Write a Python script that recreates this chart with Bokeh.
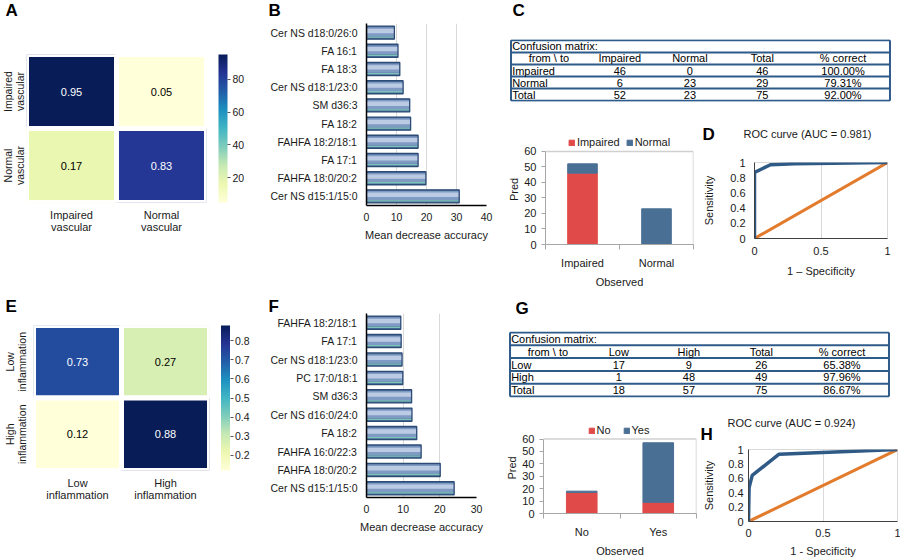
import numpy as np
from bokeh.plotting import figure
from bokeh.models import (ColumnDataSource, Range1d, FactorRange, FixedTicker,
                          SingleIntervalTicker, LinearColorMapper, ColorBar,
                          Legend, LegendItem, PrintfTickFormatter)
from bokeh.palettes import YlGnBu9
from bokeh.transform import dodge
from bokeh.core.properties import value
from bokeh.embed import file_html
from bokeh.resources import INLINE

FONT = "Liberation Sans"
TXT = "#1a1a1a"

# ---------------- data ----------------
# A / E: normalised confusion heatmaps
vasc_heat_labels = ["Impaired\nvascular", "Normal\nvascular"]
vasc_heat = [[0.95, 0.05], [0.17, 0.83]]
infl_heat_labels = ["Low\ninflammation", "High\ninflammation"]
infl_heat = [[0.73, 0.27], [0.12, 0.88]]

# B / F: random-forest feature importance (top to bottom)
vasc_features = ["Cer NS d18:0/26:0", "FA 16:1", "FA 18:3", "Cer NS d18:1/23:0", "SM d36:3",
                 "FA 18:2", "FAHFA 18:2/18:1", "FA 17:1", "FAHFA 18:0/20:2", "Cer NS d15:1/15:0"]
vasc_mda = [9.3, 10.5, 11.1, 12.2, 14.4, 14.7, 17.2, 17.2, 19.8, 30.9]
infl_features = ["FAHFA 18:2/18:1", "FA 17:1", "Cer NS d18:1/23:0", "PC 17:0/18:1", "SM d36:3",
                 "Cer NS d16:0/24:0", "FA 18:2", "FAHFA 16:0/22:3", "FAHFA 18:0/20:2", "Cer NS d15:1/15:0"]
infl_mda = [9.35, 9.45, 9.7, 9.9, 12.3, 12.4, 13.7, 14.9, 20.1, 23.9]

# C / G: confusion matrices (rows = from, columns = to)
vasc_classes = ["Impaired", "Normal"]
vasc_cm = [[46, 0], [6, 23]]
vasc_bar_cats = ["Impaired", "Normal"]
vasc_bar_legend = ["Impaired", "Normal"]
infl_classes = ["Low", "High"]
infl_cm = [[17, 9], [1, 48]]
infl_bar_cats = ["No", "Yes"]
infl_bar_legend = ["No", "Yes"]
pred_max = 60

# D / H: ROC curves
vasc_fpr = [0, 0, 0.12, 0.3, 1]
vasc_tpr = [0, 0.87, 0.97, 0.985, 1]
vasc_auc = 0.981
infl_fpr = [0, 0.004, 0.025, 0.205, 1]
infl_tpr = [0, 0.47, 0.64, 0.935, 1]
infl_auc = 0.924
chance = [0, 1]

RED = "#E04B49"
BLUE = "#4A6F94"
ROC_BLUE = "#2F5A86"
ORANGE = "#E27B2C"
RULE = "#2F5B8A"
FRAME_GREY = "#D0D0D0"


def ylgnbu(n=256):
    base = list(reversed(YlGnBu9))
    rgb = np.array([[int(c[i:i + 2], 16) for i in (1, 3, 5)] for c in base], float)
    pos = np.linspace(0, 1, len(base))
    t = np.linspace(0, 1, n)
    chans = [np.interp(t, pos, rgb[:, k]) for k in range(3)]
    return ["#%02x%02x%02x" % (int(round(r)), int(round(g)), int(round(b)))
            for r, g, b in zip(*chans)]


PAL = ylgnbu()


def base_fig(width, height, l, r, t, b, **kw):
    p = figure(width=width, height=height, output_backend="svg", toolbar_location=None,
               min_border_left=l, min_border_right=r, min_border_top=t, min_border_bottom=b,
               background_fill_color="white", border_fill_color="white", **kw)
    return p


def place(p, left, top):
    # each panel is its own root, pinned to its spot on the page
    p.styles = {"position": "absolute", "left": f"{left}px", "top": f"{top}px"}
    return p


def text_tag(text, left, top, width, height, size, bold=False, centered=False):
    # small transparent canvas holding a panel letter or a chart heading
    p = figure(width=width, height=height, output_backend="svg", toolbar_location=None,
               x_range=Range1d(0, 1), y_range=Range1d(0, 1), min_border=0,
               x_axis_location=None, y_axis_location=None)
    p.grid.visible = False
    p.outline_line_color = None
    p.background_fill_alpha = 0
    p.border_fill_alpha = 0
    p.text(x=[0.5 if centered else 0], y=[0.5 if centered else 1], text=[text],
           text_align="center" if centered else "left",
           text_baseline="middle" if centered else "top",
           text_font=value(FONT), text_font_size=size,
           text_font_style="bold" if bold else "normal", text_color="black" if bold else TXT)
    return place(p, left, top)


def letter(text, left, top):
    return text_tag(text, left, top, 24, 22, "17px", bold=True)


def heading(text, cx, cy):
    return text_tag(text, cx - 80, cy - 8, 160, 16, "11px", centered=True)


def style_axis(ax, size="11px"):
    ax.major_label_text_font = FONT
    ax.major_label_text_font_size = size
    ax.major_label_text_color = TXT
    ax.axis_label_text_font = FONT
    ax.axis_label_text_font_size = "11px"
    ax.axis_label_text_font_style = "normal"
    ax.axis_label_text_color = TXT


def heatmap(matrix, labels, low, high, scale, ticks, width, height, l, r, t, b, cb_gap, ystand):
    n = len(labels)
    xs, ys, vs, txt, col = [], [], [], [], []
    for i in range(n):
        for j in range(n):
            v = matrix[i][j]
            xs.append(j + 0.5)
            ys.append(n - i - 0.5)
            vs.append(v * scale)
            txt.append(f"{v:.2f}")
            col.append("white" if (v * scale - low) / (high - low) > 0.5 else "black")
    src = ColumnDataSource(dict(x=xs, y=ys, v=vs, t=txt, c=col))
    mapper = LinearColorMapper(palette=PAL, low=low, high=high)
    p = base_fig(width, height, l, r, t, b, x_range=Range1d(0, n), y_range=Range1d(0, n))
    p.rect("x", "y", 1, 1, source=src, fill_color={"field": "v", "transform": mapper},
           line_color="white", line_width=5)
    p.text("x", "y", text="t", source=src, text_color="c", text_align="center",
           text_baseline="middle", text_font=value(FONT), text_font_size="11px")
    p.grid.visible = False
    p.outline_line_color = None
    centers = [k + 0.5 for k in range(n)]
    p.xaxis.ticker = FixedTicker(ticks=centers)
    p.yaxis.ticker = FixedTicker(ticks=centers)
    p.xaxis.major_label_overrides = {c: labels[k] for k, c in enumerate(centers)}
    p.yaxis.major_label_overrides = {c: labels[n - 1 - k] for k, c in enumerate(centers)}
    p.yaxis.major_label_orientation = "parallel"
    for ax in (p.xaxis[0], p.yaxis[0]):
        style_axis(ax, "11px")
        ax.axis_line_color = None
        ax.major_tick_line_color = None
        ax.minor_tick_line_color = None
        ax.major_tick_out = 0
        ax.major_tick_in = 0
    p.xaxis.major_label_text_line_height = 1.05
    p.xaxis.major_label_standoff = 6
    p.yaxis.major_label_standoff = ystand
    p.yaxis.major_label_text_font_size = "10.5px"
    p.yaxis.major_label_text_line_height = 1.0
    fw = width - l - r
    fh = height - t - b
    cb = ColorBar(color_mapper=mapper, ticker=FixedTicker(ticks=ticks), location=(fw + cb_gap, 0),
                  width=9, height=fh, padding=0, margin=0, major_tick_in=0, major_tick_out=3,
                  major_tick_line_color="#555555", minor_tick_line_color=None,
                  major_label_text_font=FONT, major_label_text_font_size="10.5px",
                  major_label_text_color=TXT, label_standoff=2, bar_line_color=None,
                  border_line_color=None, background_fill_alpha=0)
    p.add_layout(cb, "center")
    return p


def importance(features, vals, xmax, ticks, width, height, l, r, t, b):
    p = base_fig(width, height, l, r, t, b,
                 y_range=FactorRange(factors=list(reversed(features)), range_padding=0),
                 x_range=Range1d(0, xmax))
    src = ColumnDataSource(dict(f=features, v=vals))
    p.hbar(y="f", left=0, right="v", height=0.72, source=src, fill_color="#4E6E9B", line_color=None)
    p.hbar(y=dodge("f", 0.04, range=p.y_range), left=0, right="v", height=0.5, source=src,
           fill_color="#7F9AC3", line_color=None)
    p.hbar(y=dodge("f", 0.09, range=p.y_range), left=0, right="v", height=0.24, source=src,
           fill_color="#BCCBE4", line_color=None)
    p.hbar(y=dodge("f", -0.25, range=p.y_range), left=0, right="v", height=0.07, source=src,
           fill_color="#7CC4B8", line_color=None)
    p.hbar(y="f", left=0, right="v", height=0.72, source=src, fill_color=None,
           line_color="#2C4B75", line_width=1.3)
    p.ygrid.visible = False
    p.xgrid.grid_line_color = "#D9D9D9"
    p.xgrid.ticker = FixedTicker(ticks=ticks)
    p.outline_line_color = None
    p.xaxis.ticker = FixedTicker(ticks=ticks)
    p.xaxis.axis_label = "Mean decrease accuracy"
    for ax in (p.xaxis[0], p.yaxis[0]):
        style_axis(ax, "10.5px")
        ax.axis_line_color = "black"
        ax.axis_line_width = 1.5
        ax.major_tick_line_color = None
        ax.minor_tick_line_color = None
        ax.major_tick_out = 0
        ax.major_tick_in = 0
    p.xaxis.major_label_standoff = 7
    p.xaxis.axis_label_standoff = 5
    p.yaxis.major_label_standoff = 9
    return p


COL_POS = [0.10, 0.287, 0.472, 0.663, 0.876]


def table(cm, classes, width, height, l, r, t, b):
    n = len(classes)
    row_tot = [sum(rw) for rw in cm]
    col_tot = [sum(cm[i][j] for i in range(n)) for j in range(n)]
    total = sum(row_tot)
    header = ["from \\ to"] + classes + ["Total", "% correct"]
    body = []
    for i, c in enumerate(classes):
        body.append([c] + [str(v) for v in cm[i]] +
                    [str(row_tot[i]), f"{100 * cm[i][i] / row_tot[i]:.2f}%"])
    body.append(["Total"] + [str(v) for v in col_tot] +
                [str(total), f"{100 * sum(cm[i][i] for i in range(n)) / total:.2f}%"])
    nrows = 2 + len(body)
    p = base_fig(width, height, l, r, t, b, x_range=Range1d(-0.004, 1.004),
                 y_range=Range1d(nrows + 0.07, -0.07), x_axis_location=None, y_axis_location=None)
    p.grid.visible = False
    p.outline_line_color = None
    ys = list(range(nrows + 1))
    p.segment(x0=[0] * len(ys), y0=ys, x1=[1] * len(ys), y1=ys, line_color=RULE, line_width=2)
    p.segment(x0=[0, 1], y0=[0, 0], x1=[0, 1], y1=[nrows, nrows], line_color=RULE, line_width=2)
    cx, cy, ct = [], [], []
    lx, ly, lt = [0.003], [0.5], ["Confusion matrix:"]
    for k, h in enumerate(header):
        cx.append(COL_POS[k]); cy.append(1.5); ct.append(h)
    for ri, rw in enumerate(body):
        yy = 2.5 + ri
        lx.append(0.003); ly.append(yy); lt.append(rw[0])
        for k in range(1, len(rw)):
            cx.append(COL_POS[k]); cy.append(yy); ct.append(rw[k])
    p.text(x=cx, y=cy, text=ct, text_align="center", text_baseline="middle",
           text_font=value(FONT), text_font_size="11px", text_color="black")
    p.text(x=lx, y=ly, text=lt, text_align="left", text_baseline="middle",
           text_font=value(FONT), text_font_size="11px", text_color="black")
    return p


def stacked(cm, cats, legend_labels, width, height, l, r, t, b, top_of_max):
    # the frame reaches a little above the value axis so the key can sit over the bars
    n = len(cats)
    xs = [k + 0.5 for k in range(n)]
    data = dict(x=xs)
    keys = []
    for i in range(len(cm)):
        key = f"s{i}"
        data[key] = [cm[i][j] for j in range(n)]
        keys.append(key)
    src = ColumnDataSource(data)
    fh = height - t - b
    y_end = pred_max * fh / (fh - (top_of_max - t))
    p = base_fig(width, height, l, r, t, b, x_range=Range1d(0, n), y_range=Range1d(0, y_end))
    rs = p.vbar_stack(keys, x="x", width=0.4, color=[RED, BLUE], source=src)
    # plot-area box (top and right edges)
    p.segment(x0=[0, n], y0=[pred_max, 0], x1=[n, n], y1=[pred_max, pred_max],
              line_color=FRAME_GREY, line_width=1.5)
    leg = Legend(items=[LegendItem(label=lab, renderers=[rr]) for lab, rr in zip(legend_labels, rs)],
                 orientation="horizontal", location="top_center", margin=2, padding=0,
                 spacing=6, label_standoff=2, glyph_width=7, glyph_height=7,
                 label_text_font=FONT, label_text_font_size="11px", label_text_color=TXT,
                 border_line_color=None, background_fill_alpha=0, label_height=12)
    p.add_layout(leg, "center")
    p.grid.visible = False
    p.outline_line_color = None
    p.xaxis.ticker = FixedTicker(ticks=xs, minor_ticks=list(range(n + 1)))
    p.xaxis.major_label_overrides = {x: c for x, c in zip(xs, cats)}
    p.yaxis.ticker = SingleIntervalTicker(interval=10)
    p.yaxis.bounds = (0, pred_max)
    p.xaxis.axis_label = "Observed"
    p.yaxis.axis_label = "Pred"
    for ax in (p.xaxis[0], p.yaxis[0]):
        style_axis(ax, "11px")
        ax.axis_line_color = "#A6A6A6"
        ax.major_tick_line_color = "#A6A6A6"
        ax.minor_tick_line_color = "#A6A6A6"
    p.xaxis.major_tick_line_color = None
    p.xaxis.major_tick_out = 0
    p.xaxis.major_tick_in = 0
    p.xaxis.minor_tick_out = 5
    p.xaxis.minor_tick_in = 0
    p.xaxis.major_label_standoff = 7
    p.xaxis.axis_label_standoff = 4
    p.yaxis.major_tick_out = 4
    p.yaxis.major_tick_in = 0
    p.yaxis.minor_tick_line_color = None
    p.yaxis.major_label_standoff = 5
    p.yaxis.axis_label_standoff = 1
    return p


def roc(fpr, tpr, xlabel, width, height, l, r, t, b, ystand, ylab_stand, xstand, xlab_stand):
    p = base_fig(width, height, l, r, t, b, x_range=Range1d(0, 1), y_range=Range1d(0, 1))
    p.line(chance, chance, line_color=ORANGE, line_width=3)
    p.line(fpr, tpr, line_color=ROC_BLUE, line_width=3.5)
    p.ygrid.visible = False
    p.xgrid.grid_line_color = "#D9D9D9"
    p.xgrid.ticker = FixedTicker(ticks=[0, 0.5, 1])
    p.outline_line_color = "#D9D9D9"
    p.xaxis.ticker = FixedTicker(ticks=[0, 0.5, 1])
    p.yaxis.ticker = FixedTicker(ticks=[0, 0.2, 0.4, 0.6, 0.8, 1])
    p.xaxis.formatter = PrintfTickFormatter(format="%g")
    p.yaxis.formatter = PrintfTickFormatter(format="%g")
    p.xaxis.axis_label = xlabel
    p.yaxis.axis_label = "Sensitivity"
    for ax in (p.xaxis[0], p.yaxis[0]):
        style_axis(ax, "11px")
        ax.axis_line_color = "#404040"
        ax.major_tick_line_color = None
        ax.minor_tick_line_color = None
        ax.major_tick_out = 0
        ax.major_tick_in = 0
    p.yaxis.major_label_standoff = ystand
    p.yaxis.axis_label_standoff = ylab_stand
    p.xaxis.major_label_standoff = xstand
    p.xaxis.axis_label_standoff = xlab_stand
    return p


def roc_title(auc):
    return f"ROC curve (AUC = {auc:.3f})"


# ---------------- panels ----------------
figA = heatmap(vasc_heat, vasc_heat_labels, 5, 95, 100, [20, 40, 60, 80],
               258, 290, 29, 49, 54, 88, 12, 1)
figE = heatmap(infl_heat, infl_heat_labels, 0.12, 0.88, 1, [0.2, 0.3, 0.4, 0.5, 0.6, 0.7, 0.8],
               255, 269, 32, 46, 35, 89, 10.5, 6)

figB = importance(vasc_features, vasc_mda, 40, [0, 10, 20, 30, 40], 245, 290, 111, 14, 23, 85)
figF = importance(infl_features, infl_mda, 30, [0, 10, 20, 30], 245, 269, 111, 24, 23, 62)

figC = table(vasc_cm, vasc_classes, 400, 105, 9, 9, 39, 4)
figG = table(infl_cm, infl_classes, 400, 110, 8, 10, 41, 3)

figCb = stacked(vasc_cm, vasc_bar_cats, vasc_bar_legend, 200, 185, 45, 7, 29, 39, 47)
figGb = stacked(infl_cm, infl_bar_cats, infl_bar_legend, 200, 159, 43, 4, 22, 38, 40)

figD = roc(vasc_fpr, vasc_tpr, "1 \u2013 Specificity", 200, 185, 51, 13, 57, 52, 9, 12, 8, 7)
figH = roc(infl_fpr, infl_tpr, "1 - Specificity", 200, 159, 42, 3, 49, 32, 5, 10, 7, 5)

panels = [
    place(figA, -3, 0), place(figB, 255, 0), place(figC, 500, 0),
    place(figCb, 500, 105), place(figD, 700, 105),
    place(figE, 0, 290), place(figF, 255, 290), place(figG, 500, 290),
    place(figGb, 500, 400), place(figH, 700, 400),
    heading(roc_title(vasc_auc), 807, 133), heading(roc_title(infl_auc), 791, 422),
    letter("A", 5, 0), letter("B", 268, 0), letter("C", 512, 0), letter("D", 702, 124),
    letter("E", 5, 296), letter("F", 268, 296), letter("G", 515, 298), letter("H", 700, 424),
]

open("out.html", "w").write(file_html(panels, INLINE))
